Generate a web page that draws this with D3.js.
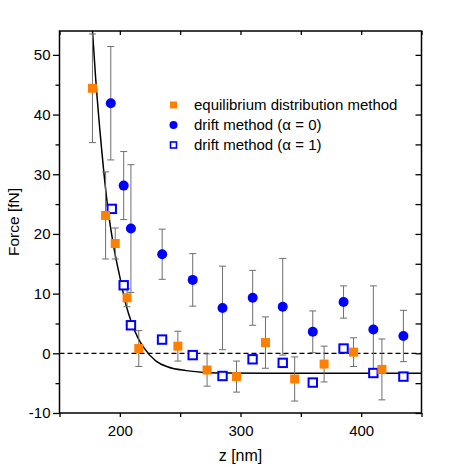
<!DOCTYPE html>
<html>
<head>
<meta charset="utf-8">
<script src="https://cdn.jsdelivr.net/npm/d3@7"></script>
<style>
  body { margin: 0; background: #fff; }
  svg text { font-family: "Liberation Sans", Arial, Helvetica, sans-serif; fill: #000; }
</style>
</head>
<body>
<svg id="chart" width="450" height="467"></svg>
<script>
// ---- data ----
// equilibrium distribution method: z [nm], force [fN], error [fN]
const eqZ   = [177.3, 188.2, 196.2, 206.0, 215.7, 248.1, 272.3, 296.7, 320.7, 344.9, 369.3, 393.7, 417.2];
const eqF   = [44.4, 23.1, 18.4, 9.3, 0.8, 1.2, -2.8, -3.9, 1.8, -4.3, -1.8, 0.2, -2.7];
const eqErr = [9.1, 7.3, 2.6, 1.5, 3.0, 2.5, 2.7, 2.6, 4.3, 3.7, 3.0, 2.4, 5.1];

// drift method (alpha = 0)
const d0Z   = [192.5, 203.2, 209.2, 235.1, 260.4, 285.1, 310.1, 335.0, 359.9, 385.4, 410.1, 435.0];
const d0F   = [41.9, 28.1, 20.9, 16.6, 12.3, 7.6, 9.3, 7.8, 3.6, 8.6, 4.0, 2.9];
const d0Err = [9.5, 5.7, 10.7, 4.2, 4.4, 7.0, 4.6, 8.1, 3.5, 2.7, 7.3, 4.3];

// drift method (alpha = 1)
const d1Z = [193.3, 203.2, 209.2, 235.0, 260.4, 285.1, 310.0, 335.0, 359.9, 385.4, 410.1, 435.0];
const d1F = [24.2, 11.4, 4.7, 2.3, -0.3, -3.8, -1.0, -1.6, -4.9, 0.8, -3.3, -3.9];

// fitted curve
const fitZ = [176, 180, 185, 190, 195, 200, 205, 210, 215, 220, 230, 240, 255, 270, 290, 320, 450];
const fitF = [58, 46, 34, 24.4, 17.8, 12.8, 8.2, 5.0, 2.6, 0.9, -1.3, -2.3, -2.9, -3.2, -3.3, -3.35, -3.35];

const xMajor = [200, 300, 400];
const xAll   = [150, 200, 250, 300, 350, 400, 450];
const yMajor = [-10, 0, 10, 20, 30, 40, 50];
const yAll   = [-10, -5, 0, 5, 10, 15, 20, 25, 30, 35, 40, 45, 50];

const legendLabels = ["equilibrium distribution method", "drift method (\u03B1 = 0)", "drift method (\u03B1 = 1)"];

// ---- layout ----
const L = 59.5, R = 421.5, T = 31, B = 413;
const ORANGE = "#ff8000", BLUE = "#0000ff", ERR = "#6e6e6e";

const svg = d3.select("#chart");
const x = d3.scaleLinear().domain([150, 450]).range([L, R]);
const y = d3.scaleLinear().domain([-10, 54]).range([B, T]);

svg.append("defs").append("clipPath").attr("id", "clip")
  .append("rect").attr("x", L).attr("y", T).attr("width", R - L).attr("height", B - T);

// zero dashed line
svg.append("line")
  .attr("x1", L).attr("x2", R).attr("y1", y(0)).attr("y2", y(0))
  .attr("stroke", "#000").attr("stroke-width", 1.3).attr("stroke-dasharray", "5,3");

// fit curve
const fitData = fitZ.map((z, i) => [z, fitF[i]]);
svg.append("path")
  .datum(fitData)
  .attr("clip-path", "url(#clip)")
  .attr("fill", "none").attr("stroke", "#000").attr("stroke-width", 1.5)
  .attr("d", d3.line().x(d => x(d[0])).y(d => y(d[1])).curve(d3.curveMonotoneX));

// error bars
function errorBars(zs, fs, es) {
  const g = svg.append("g").attr("clip-path", "url(#clip)")
    .attr("stroke", ERR).attr("stroke-width", 1).attr("fill", "none");
  zs.forEach((z, i) => {
    const cx = x(z), y1 = y(fs[i] + es[i]), y2 = y(fs[i] - es[i]);
    g.append("line").attr("x1", cx).attr("x2", cx).attr("y1", y1).attr("y2", y2);
    g.append("line").attr("x1", cx - 3.5).attr("x2", cx + 3.5).attr("y1", y1).attr("y2", y1);
    g.append("line").attr("x1", cx - 3.5).attr("x2", cx + 3.5).attr("y1", y2).attr("y2", y2);
  });
}
errorBars(eqZ, eqF, eqErr);
errorBars(d0Z, d0F, d0Err);

// markers
const gm = svg.append("g").attr("clip-path", "url(#clip)");
gm.selectAll("rect.d1").data(d1Z).join("rect").attr("class", "d1")
  .attr("x", (d) => x(d) - 4.2).attr("y", (d, i) => y(d1F[i]) - 4.2)
  .attr("width", 8.4).attr("height", 8.4)
  .attr("fill", "#fff").attr("stroke", BLUE).attr("stroke-width", 2);
gm.selectAll("rect.eq").data(eqZ).join("rect").attr("class", "eq")
  .attr("x", (d) => x(d) - 4.5).attr("y", (d, i) => y(eqF[i]) - 4.5)
  .attr("width", 9).attr("height", 9).attr("fill", ORANGE);
gm.selectAll("circle.d0").data(d0Z).join("circle").attr("class", "d0")
  .attr("cx", (d) => x(d)).attr("cy", (d, i) => y(d0F[i]))
  .attr("r", 5).attr("fill", BLUE);

// axes
const axisG = svg.append("g");
// bottom (outward)
axisG.append("g").attr("transform", `translate(0,${B})`)
  .call(d3.axisBottom(x).tickValues(xAll).tickSize(4).tickFormat(d => xMajor.includes(d) ? d : ""))
  .call(g => g.selectAll("text").attr("dy", "1.05em").style("font-size", "15px"));
// top (inward)
axisG.append("g").attr("transform", `translate(0,${T})`)
  .call(d3.axisBottom(x).tickValues(xAll).tickSize(4).tickFormat(""));
// left (outward)
axisG.append("g").attr("transform", `translate(${L},0)`)
  .call(d3.axisLeft(y).tickValues(yAll).tickSize(4).tickFormat(d => yMajor.includes(d) ? d : ""))
  .call(g => g.selectAll(".tick line").attr("x2", d => yMajor.includes(d) ? -6.5 : -4))
  .call(g => g.selectAll("text").attr("x", -9).style("font-size", "15px"));
// right (inward)
axisG.append("g").attr("transform", `translate(${R},0)`)
  .call(d3.axisLeft(y).tickValues(yAll).tickSize(6).tickFormat(""));
axisG.selectAll(".domain").attr("stroke", "#000").attr("stroke-width", 1.5);
axisG.selectAll(".tick line").attr("stroke", "#000").attr("stroke-width", 1.3);
axisG.selectAll("text").attr("font-family", null);
// remove domain end-caps outward
axisG.selectAll(".domain").attr("d", function() {
  return d3.select(this).attr("d").replace(/M[^H]*H/, m => m);
});
// frame (exact)
svg.append("rect").attr("x", L).attr("y", T).attr("width", R - L).attr("height", B - T)
  .attr("fill", "none").attr("stroke", "#000").attr("stroke-width", 1.5);
axisG.selectAll(".domain").remove();

// axis titles
svg.append("text").attr("x", (L + R) / 2).attr("y", 461).attr("text-anchor", "middle")
  .style("font-size", "16px").text("z [nm]");
svg.append("text").attr("transform", `translate(19,${(T + B) / 2}) rotate(-90)`)
  .attr("text-anchor", "middle").style("font-size", "15.5px").text("Force [fN]");

// legend
const lg = svg.append("g");
const lx = 173.5, ly0 = 105, dy = 20;
lg.append("rect").attr("x", lx - 3.5).attr("y", ly0 - 3.5).attr("width", 7).attr("height", 7).attr("fill", ORANGE);
lg.append("circle").attr("cx", lx).attr("cy", ly0 + dy).attr("r", 4).attr("fill", BLUE);
lg.append("rect").attr("x", lx - 3).attr("y", ly0 + 2 * dy - 3).attr("width", 6).attr("height", 6)
  .attr("fill", "#fff").attr("stroke", BLUE).attr("stroke-width", 1.6);
legendLabels.forEach((t, i) => {
  lg.append("text").attr("x", 194).attr("y", ly0 + i * dy).attr("dy", "0.36em")
    .style("font-size", "15px").text(t);
});
</script>
</body>
</html>
